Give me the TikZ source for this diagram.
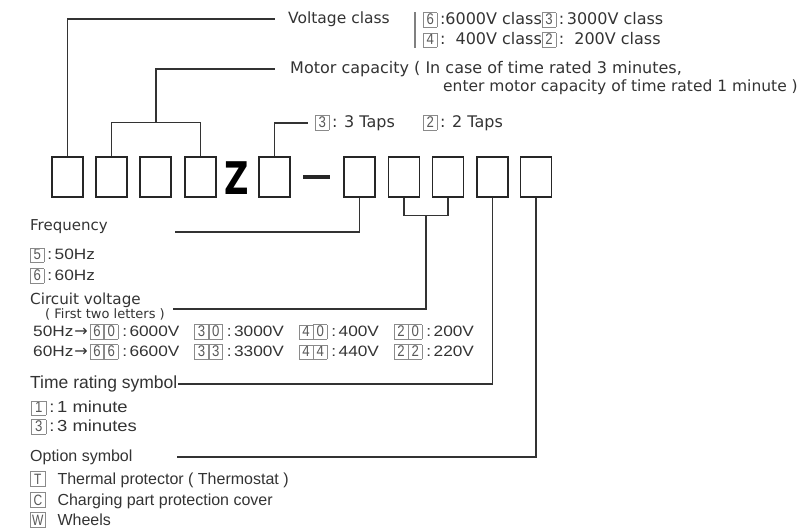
\documentclass[tikz,border=0pt]{standalone}
\usepackage{fontspec}
\setmainfont{DejaVu Sans}
\newfontfamily\arialfont{Liberation Sans}
\newfontfamily\gothfont[FakeStretch=1.15]{Liberation Sans}
\newfontfamily\thinfont[FakeStretch=0.85]{Liberation Sans}
\usepackage{tikz}
\usetikzlibrary{positioning,calc}

\definecolor{ink}{HTML}{333333}
\definecolor{boxgray}{HTML}{8A8A8A}

% framed code digit / letter
\newcommand{\kb}[2][11pt]{{\thinfont\fontsize{15.5}{15}\selectfont\setlength{\fboxsep}{1pt}\setlength{\fboxrule}{0.6pt}%
  \fcolorbox{boxgray}{white}{\makebox[#1]{\rule[-1pt]{0pt}{11.5pt}\textcolor{black!65}{#2}}}}}
\newcommand{\kl}[1]{{\fontsize{15}{15}\selectfont\setlength{\fboxsep}{0.8pt}\setlength{\fboxrule}{0.6pt}%
  \fcolorbox{boxgray}{white}{\makebox[12.5pt]{\rule[-1pt]{0pt}{13pt}\textcolor{black!65}{\scalebox{0.8}[1]{#1}}}}}}
\newcommand{\arr}{\hspace{1pt}{\rmfamily\fontsize{16}{16}\selectfont →}\hspace{2pt}}

\begin{document}
\begin{tikzpicture}[x=1pt,y=-1pt,
    codebox/.style={draw=black!85,line width=1.3pt,minimum width=31pt,minimum height=40pt,inner sep=0pt},
    lead/.style={draw=ink,line width=1.2pt},
    vtext/.style={anchor=west,inner sep=0pt,text=ink,font=\fontsize{15.5}{20}\selectfont},
    atext/.style={anchor=west,inner sep=0pt,text=ink,font=\arialfont\fontsize{16}{19}\selectfont},
    gtext/.style={anchor=west,inner sep=0pt,text=ink,font=\gothfont\fontsize{15}{19}\selectfont}]
  \useasboundingbox (0,0) rectangle (799,530);
  % code boxes
  \foreach \n/\x in {1/67.5,2/111.5,3/155.5,4/200.5,5/274.5,6/359.5,7/404,8/448,9/492.5,10/536}
    \node[codebox] (b\n) at (\x,177) {};
  \node[font=\bfseries\fontsize{45}{45}\selectfont,inner sep=0pt,text=black] (z) at (237,178.5) {\scalebox{0.75}[1]{Z}};
  \node[fill=black!85,minimum width=27pt,minimum height=4.5pt,inner sep=0pt] (dash) at (316.5,177) {};
  % voltage class
  \node[vtext] (vc) at (288,19) {Voltage class};
  \draw[lead] (b1.north) |- ([xshift=-13pt]vc.west);
  \node[vtext,align=left,font=\fontsize{16}{20}\selectfont] (vo) at (423,30)
    {\kb{6}\,:6000V class\kb{3}\,:\,3000V class\\
     \kb{4}\,:\ \ 400V class\kb{2}\,:\ \ 200V class};
  \draw[gray,line width=2pt] ([xshift=-8pt]vo.north west) -- ([xshift=-8pt]vo.south west);
  % motor capacity
  \node[vtext,font=\fontsize{16}{20}\selectfont] (mc) at (290,69) {Motor capacity ( In case of time rated 3 minutes,};
  \node[vtext] (mc2) at (443,87) {enter motor capacity of time rated 1 minute )};
  \draw[lead] (b2.north) -- ++(0,-34) -| (b4.north);
  \draw[lead] ($(b2.north)!0.5!(b4.north)+(0,-34)$) |- ([xshift=-15pt]mc.west);
  % taps
  \node[vtext,font=\fontsize{16}{20}\selectfont] (t3) at (315,123) {\kb{3}\,: 3 Taps};
  \node[vtext,font=\fontsize{16}{20}\selectfont] (t2) at (423,123) {\kb{2}\,: 2 Taps};
  \draw[lead] (b5.north) |- ([xshift=-7pt]t3.west);
  % frequency
  \node[vtext,font=\fontsize{15}{20}\selectfont] (fq) at (30,227) {Frequency};
  \coordinate (fqend) at (175,232);
  \draw[lead] (b6.south) |- (fqend);
  \node[gtext] (f50) at (30,255) {\kb{5}\hspace{3pt}:\,50Hz};
  \node[gtext] (f60) at (30,276) {\kb{6}\hspace{3pt}:\,60Hz};
  % circuit voltage
  \node[vtext,font=\fontsize{15.2}{20}\selectfont] (cv) at (30,300) {Circuit voltage};
  \node[vtext,font=\fontsize{13}{13}\selectfont] (cv2) at (45,314) {( First two letters )};
  \coordinate (cvend) at (173,309);
  \draw[lead] (b7.south) -- ++(0,18) -| (b8.south);
  \draw[lead] ($(b7.south)!0.5!(b8.south)+(0,18)$) |- (cvend);
  \node[gtext] (r50) at (33,332) {50Hz\arr\kb{6}\kb{0}\hspace{4pt}:\,6000V\hspace{15pt}\kb{3}\kb{0}\hspace{4pt}:\,3000V\hspace{15pt}\kb{4}\kb{0}\hspace{4pt}:\,400V\hspace{15pt}\kb{2}\kb{0}\hspace{4pt}:\,200V};
  \node[gtext] (r60) at (33,352) {60Hz\arr\kb{6}\kb{6}\hspace{4pt}:\,6600V\hspace{15pt}\kb{3}\kb{3}\hspace{4pt}:\,3300V\hspace{15pt}\kb{4}\kb{4}\hspace{4pt}:\,440V\hspace{15pt}\kb{2}\kb{2}\hspace{4pt}:\,220V};
  % time rating
  \node[atext,font=\arialfont\fontsize{17.5}{19}\selectfont] (tr) at (30,384) {Time rating symbol};
  \draw[lead] (b9.south) |- (tr.east);
  \node[gtext,font=\gothfont\fontsize{16}{19}\selectfont] (m1) at (31,408) {\kb[12pt]{1}\hspace{3pt}:\,1 minute};
  \node[gtext,font=\gothfont\fontsize{16}{19}\selectfont] (m3) at (31,427) {\kb[12pt]{3}\hspace{3pt}:\,3 minutes};
  % options
  \node[atext] (os) at (30,457) {Option symbol};
  \coordinate (osend) at (177,457);
  \draw[lead] (b10.south) |- (osend);
  \node[atext] (ot) at (30,479) {\kl{T}\hspace{12pt}Thermal protector ( Thermostat )};
  \node[atext] (oc) at (30,500) {\kl{C}\hspace{12pt}Charging part protection cover};
  \node[atext] (ow) at (30,520) {\kl{W}\hspace{12pt}Wheels};
\end{tikzpicture}
\end{document}
